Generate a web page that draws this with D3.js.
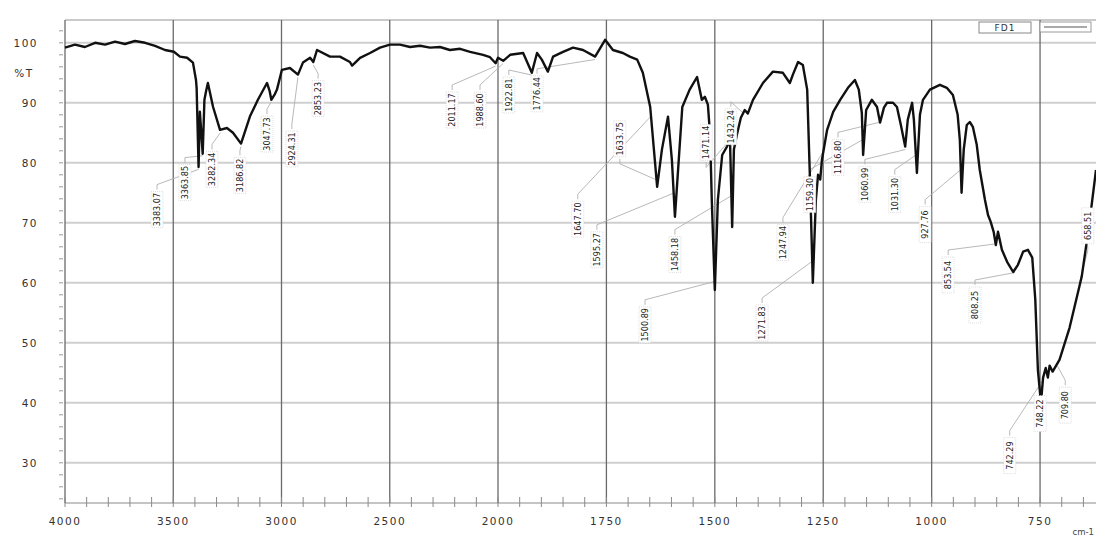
<!DOCTYPE html>
<html>
<head>
<meta charset="utf-8">
<script src="https://cdn.jsdelivr.net/npm/d3@7"></script>
<style>
  body { margin: 0; background: #fff; }
  svg { display: block; }
</style>
</head>
<body>
<svg id="chart" width="1096" height="539"></svg>
<script>
// spectrum FD1 (wavenumber cm-1 / %T)
const wavenumber = [4000, 3954, 3908, 3861, 3815, 3769, 3723, 3677, 3630, 3584, 3538, 3497, 3469, 3436, 3409,
  3395, 3392, 3383, 3377, 3364, 3356, 3348, 3340, 3316, 3284, 3252, 3224, 3187, 3146, 3109, 3067, 3055, 3047,
  3030, 3021, 2998, 2961, 2924, 2901, 2868, 2853, 2836, 2776, 2730, 2684, 2674, 2637, 2591, 2545, 2499, 2453,
  2406, 2360, 2314, 2268, 2222, 2175, 2129, 2069, 2037, 2011, 2000, 1988, 1972, 1942, 1922, 1910, 1899, 1885,
  1873, 1850, 1827, 1804, 1776, 1753, 1735, 1712, 1696, 1679, 1666, 1649, 1633, 1622, 1608, 1599, 1592, 1575,
  1558, 1541, 1530, 1523, 1516, 1511, 1507, 1500, 1493, 1483, 1472, 1465, 1460, 1456, 1449, 1440, 1431, 1424,
  1412, 1389, 1366, 1343, 1327, 1320, 1308, 1297, 1287, 1281, 1274, 1267, 1262, 1257, 1253, 1241, 1227, 1211,
  1193, 1177, 1168, 1161, 1158, 1151, 1138, 1126, 1119, 1110, 1103, 1089, 1080, 1071, 1061, 1055, 1045, 1041,
  1034, 1027, 1020, 1004, 981, 965, 951, 940, 935, 931, 926, 919, 912, 905, 896, 889, 877, 870, 864, 857, 852,
  847, 838, 826, 812, 801, 789, 778, 768, 761, 755, 748, 743, 737, 732, 728, 721, 705, 682, 654, 640, 631, 621];
const transmittance = [99.2, 99.7, 99.3, 100.0, 99.7, 100.2, 99.8, 100.3, 100.0, 99.5, 98.8, 98.5, 97.7, 97.5, 96.7,
  93.8, 92.5, 79.3, 88.5, 81.5, 90.5, 92.0, 93.3, 89.3, 85.5, 85.8, 85.0, 83.2, 87.7, 90.5, 93.3, 92.0, 90.5,
  91.5, 92.2, 95.5, 95.8, 94.7, 96.7, 97.5, 96.8, 98.8, 97.7, 97.7, 96.8, 96.2, 97.5, 98.3, 99.2, 99.7, 99.7,
  99.3, 99.5, 99.2, 99.3, 98.8, 99.0, 98.5, 98.0, 97.6, 96.6, 97.5, 97.0, 98.0, 98.3, 95.0, 98.3, 97.2, 95.2,
  97.7, 98.5, 99.2, 98.8, 97.7, 100.5, 98.8, 98.3, 97.7, 97.2, 95.0, 89.3, 76.0, 82.2, 87.7, 80.5, 71.0, 89.3,
  92.2, 94.3, 90.5, 91.0, 89.7, 84.7, 73.8, 58.8, 73.8, 81.3, 82.7, 83.8, 69.3, 82.2, 84.7, 87.5, 88.8, 88.2,
  90.5, 93.3, 95.2, 95.0, 93.3, 94.7, 96.8, 96.3, 92.2, 78.3, 60.0, 73.8, 78.0, 77.2, 80.5, 85.5, 88.5, 90.5,
  92.5, 93.8, 92.2, 88.3, 81.3, 88.8, 90.5, 89.3, 86.7, 89.2, 90.0, 90.0, 89.3, 86.3, 82.7, 87.2, 90.0, 87.2,
  78.3, 88.0, 90.5, 92.2, 93.0, 92.5, 91.3, 88.0, 83.8, 75.0, 82.2, 86.3, 86.8, 86.0, 83.0, 78.8, 73.8, 71.3,
  70.2, 68.5, 66.3, 68.5, 65.5, 63.5, 61.8, 63.0, 65.2, 65.5, 64.2, 57.2, 45.5, 40.0, 44.2, 45.8, 44.2, 46.2,
  45.2, 47.2, 52.5, 61.0, 68.0, 73.0, 78.8];

// peak picks (the label text is the value)
const peaks = [3383.07, 3363.85, 3282.34, 3186.82, 3047.73, 2924.31, 2853.23, 2011.17, 1988.60, 1922.81,
  1776.44, 1633.75, 1647.70, 1595.27, 1458.18, 1471.14, 1432.24, 1500.89, 1247.94, 1271.83, 1159.30, 1116.80,
  1060.99, 1031.30, 927.76, 853.54, 808.25, 748.22, 709.80, 742.29, 658.51];

// where each pick label sits, in chart units (layout only)
const labelWn = [3575, 3446, 3321, 3192, 3067, 2952, 2831, 2212, 2083, 1975, 1910, 1719, 1816, 1772, 1592,
  1520, 1463, 1661, 1343, 1391, 1281, 1216, 1154, 1085, 1015, 962, 900, 750, 692, 820, 640];
const labelT = [72.2, 76.7, 78.9, 77.9, 84.8, 82.3, 90.7, 88.8, 88.8, 91.3, 91.5, 84.0, 70.6, 65.5, 64.7,
  83.4, 86.0, 53.0, 66.7, 53.3, 74.7, 80.9, 76.4, 74.7, 69.7, 61.3, 56.3, 38.2, 39.6, 31.2, 69.5];

const xTicks = [4000, 3500, 3000, 2500, 2000, 1750, 1500, 1250, 1000, 750];
const yTicks = [30, 40, 50, 60, 70, 80, 90, 100];
const seriesName = "FD1";

const svg = d3.select("#chart");
const plot = {left: 65, right: 1096, top: 20, bottom: 503};

// split wavenumber axis: 4000-2000 compressed, 2000-621 expanded
const x = d3.scaleLinear().domain([4000, 2000, 621]).range([plot.left, 498, plot.right]);
const y = d3.scaleLinear().domain([23.3, 103.8]).range([plot.bottom, plot.top]);

const tickFont = "'DejaVu Sans', sans-serif";

// horizontal grid
svg.append("g").selectAll("line").data(yTicks).join("line")
    .attr("x1", plot.left).attr("x2", plot.right)
    .attr("y1", d => y(d)).attr("y2", d => y(d))
    .attr("stroke", "#cfcfcf").attr("stroke-width", 2);

// top frame and bottom axis line
svg.append("line").attr("x1", plot.left).attr("x2", plot.right).attr("y1", plot.top).attr("y2", plot.top)
    .attr("stroke", "#b8b8b8").attr("stroke-width", 1.5);
svg.append("line").attr("x1", plot.left).attr("x2", plot.right).attr("y1", plot.bottom).attr("y2", plot.bottom)
    .attr("stroke", "#c4c4c4").attr("stroke-width", 2);

// vertical grid
svg.append("g").selectAll("line").data(xTicks).join("line")
    .attr("x1", d => x(d)).attr("x2", d => x(d))
    .attr("y1", plot.top).attr("y2", plot.bottom)
    .attr("stroke", "#6a6a6a").attr("stroke-width", 1.3);

// minor ticks on the bottom axis
const minorX = d3.range(4000, 2000, -100).concat(d3.range(2000, 621, -50));
svg.append("g").selectAll("line").data(minorX).join("line")
    .attr("x1", d => x(d)).attr("x2", d => x(d))
    .attr("y1", plot.bottom - 6).attr("y2", plot.bottom + 4)
    .attr("stroke", "#8a8a8a").attr("stroke-width", 1);

// minor ticks on the left axis
const minorY = d3.range(24, 104, 2);
svg.append("g").selectAll("line").data(minorY).join("line")
    .attr("x1", plot.left - 6).attr("x2", plot.left - 2)
    .attr("y1", d => y(d)).attr("y2", d => y(d))
    .attr("stroke", "#9a9a9a").attr("stroke-width", 1);

// tick labels
svg.append("g").selectAll("text").data(xTicks).join("text")
    .attr("x", d => x(d)).attr("y", 525)
    .attr("text-anchor", "middle")
    .attr("font-family", tickFont).attr("font-size", 10.5)
    .attr("letter-spacing", 1.5)
    .attr("fill", "#333")
    .text(d => d);

svg.append("g").selectAll("text").data(yTicks).join("text")
    .attr("x", 38).attr("y", d => y(d) + 4)
    .attr("text-anchor", "end")
    .attr("font-family", tickFont).attr("font-size", 10.5)
    .attr("letter-spacing", 1.5)
    .attr("fill", "#333")
    .text(d => d);

svg.append("text").attr("x", 24).attr("y", 77)
    .attr("text-anchor", "middle")
    .attr("font-family", tickFont).attr("font-size", 10.5)
    .attr("letter-spacing", 1.5).attr("fill", "#333")
    .text("%T");

svg.append("text").attr("x", 1094).attr("y", 535)
    .attr("text-anchor", "end")
    .attr("font-family", tickFont).attr("font-size", 8.5)
    .attr("fill", "#444")
    .text("cm-1");

// legend
const lg = svg.append("g");
lg.append("rect").attr("x", 979).attr("y", 22).attr("width", 52).attr("height", 11)
    .attr("fill", "#fff").attr("stroke", "#888").attr("stroke-width", 1);
lg.append("text").attr("x", 1005).attr("y", 31).attr("text-anchor", "middle")
    .attr("font-family", tickFont).attr("font-size", 9).attr("letter-spacing", 1)
    .attr("fill", "#333").text(seriesName);
lg.append("rect").attr("x", 1040).attr("y", 22).attr("width", 51).attr("height", 10)
    .attr("fill", "#fff").attr("stroke", "#999").attr("stroke-width", 1);
lg.append("line").attr("x1", 1044).attr("x2", 1087).attr("y1", 27).attr("y2", 27)
    .attr("stroke", "#555").attr("stroke-width", 1.2);

// spectrum
const spectrum = wavenumber.map((w, i) => ({w: w, t: transmittance[i]}));
const line = d3.line().x(d => x(d.w)).y(d => y(d.t)).curve(d3.curveLinear);

// %T on the curve at a given wavenumber
function tAt(w) {
    for (let i = 0; i < spectrum.length - 1; i++) {
        const a = spectrum[i], b = spectrum[i + 1];
        if (w <= a.w && w >= b.w) {
            return a.t + (b.t - a.t) * (a.w - w) / (a.w - b.w);
        }
    }
    return spectrum[spectrum.length - 1].t;
}

// peak labels with leaders
const labelLen = 36;
const picks = peaks.map((p, i) => ({
    p: p,
    px: x(p), py: y(tAt(p)),
    lx: x(labelWn[i]), ly: y(labelT[i])
}));

svg.append("g").selectAll("path").data(picks).join("path")
    .attr("d", d => {
        const below = d.ly > d.py;
        const sy = below ? d.ly - labelLen / 2 - 2 : d.ly + labelLen / 2 + 2;
        const ey = below ? d.py + 3 : d.py - 3;
        const ky = below ? sy - 5 : sy + 5;
        return `M${d.lx},${sy}L${d.lx},${ky}L${d.px},${ey}`;
    })
    .attr("fill", "none").attr("stroke", "#b0b0b0").attr("stroke-width", 0.9);

svg.append("path").datum(spectrum)
    .attr("d", line)
    .attr("fill", "none")
    .attr("stroke", "#111")
    .attr("stroke-width", 2.4)
    .attr("stroke-linejoin", "round");

const lab = svg.append("g").selectAll("g").data(picks).join("g")
    .attr("transform", d => `translate(${d.lx},${d.ly}) rotate(-90)`);
lab.append("rect")
    .attr("x", -labelLen / 2).attr("y", -6).attr("width", labelLen).attr("height", 12)
    .attr("fill", "#fff").attr("stroke", "#d0d0d0").attr("stroke-width", 0.7)
    .attr("stroke-dasharray", "1,1");
lab.append("text")
    .attr("text-anchor", "middle").attr("dy", "0.35em")
    .attr("font-family", "'DejaVu Sans Condensed', 'Liberation Sans Narrow', sans-serif")
    .attr("font-size", 9)
    .attr("fill", "#222")
    .text(d => d.p.toFixed(2));
</script>
</body>
</html>
